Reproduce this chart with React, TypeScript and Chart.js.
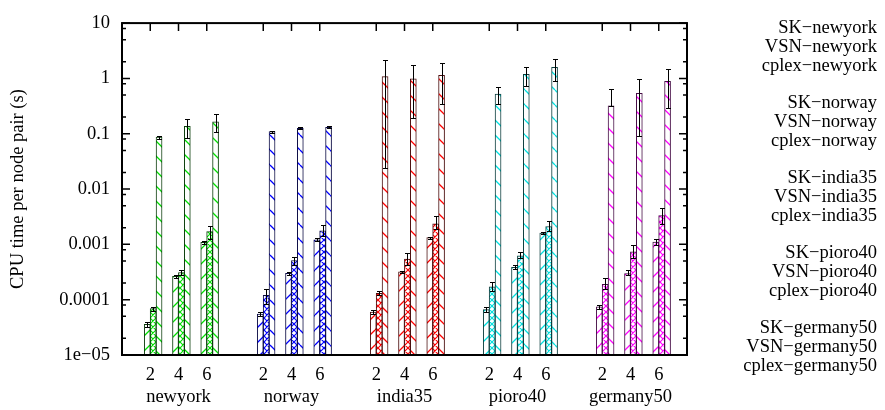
import React, { useEffect, useRef } from "react";
import { Chart, registerables } from "chart.js";

Chart.register(...registerables);

// ---------- data ----------
const networks = ["newyork", "norway", "india35", "pioro40", "germany50"];
const nodeCounts = ["2", "4", "6"];
const methods = ["SK", "VSN", "cplex"];

// values per network (rows) and node count (columns)
const skValues = [
  [3.6e-5, 2.65e-4, 1.09e-3],
  [5.5e-5, 3.0e-4, 1.21e-3],
  [6.0e-5, 3.2e-4, 1.32e-3],
  [6.6e-5, 3.85e-4, 1.6e-3],
  [7.4e-5, 2.95e-4, 1.1e-3],
];
const vsnValues = [
  [6.9e-5, 3.1e-4, 1.7e-3],
  [1.2e-4, 5.1e-4, 1.75e-3],
  [1.3e-4, 5.4e-4, 2.35e-3],
  [1.7e-4, 6.2e-4, 2.1e-3],
  [1.9e-4, 7.3e-4, 3.3e-3],
];
const cplexValues = [
  [0.087, 0.136, 0.164],
  [0.109, 0.125, 0.13],
  [1.08, 0.98, 1.14],
  [0.52, 1.19, 1.58],
  [0.32, 0.54, 0.89],
];

// error bar bounds
const skLow = [
  [3.2e-5, 2.5e-4, 1.03e-3],
  [5.1e-5, 2.85e-4, 1.15e-3],
  [5.6e-5, 3.05e-4, 1.27e-3],
  [6.1e-5, 3.6e-4, 1.53e-3],
  [6.8e-5, 2.75e-4, 9.9e-4],
];
const skHigh = [
  [3.9e-5, 2.8e-4, 1.16e-3],
  [5.95e-5, 3.15e-4, 1.28e-3],
  [6.5e-5, 3.35e-4, 1.38e-3],
  [7.3e-5, 4.15e-4, 1.67e-3],
  [8.0e-5, 3.37e-4, 1.26e-3],
];
const vsnLow = [
  [6.3e-5, 2.83e-4, 1.26e-3],
  [8.3e-5, 4.25e-4, 1.4e-3],
  [1.2e-4, 4.25e-4, 1.9e-3],
  [1.43e-4, 5.57e-4, 1.78e-3],
  [1.53e-4, 5.57e-4, 2.33e-3],
];
const vsnHigh = [
  [7.4e-5, 3.47e-4, 2.12e-3],
  [1.53e-4, 5.97e-4, 2.2e-3],
  [1.43e-4, 6.84e-4, 3.29e-3],
  [2.06e-4, 7.3e-4, 2.6e-3],
  [2.46e-4, 9.64e-4, 4.6e-3],
];
const cplexLow = [
  [0.081, 0.083, 0.106],
  [0.104, 0.12, 0.128],
  [0.0237, 0.196, 0.338],
  [0.338, 0.736, 0.914],
  [0.32, 0.0925, 0.296],
];
const cplexHigh = [
  [0.0925, 0.188, 0.225],
  [0.114, 0.132, 0.138],
  [2.13, 1.74, 1.91],
  [0.7, 1.62, 2.22],
  [0.643, 0.98, 1.46],
];

const yTickValues = [1e-5, 1e-4, 1e-3, 1e-2, 1e-1, 1, 10];
const yTickLabels = ["1e\u221205", "0.0001", "0.001", "0.01", "0.1", "1", "10"];

// ---------- styles ----------
const FONT = "'Liberation Serif', 'Times New Roman', serif";
const FONT_SIZE = 18.5;
const networkColors = ["#00e000", "#0000ff", "#ff0000", "#00e0e0", "#ff00ff"];
const networkEdges = ["#0b3d0b", "#0b0b44", "#4a0d0d", "#0b3d3d", "#440b44"];
const methodPatterns = ["up", "cross", "down"];
const methodOffsets = [-0.106, 0.103, 0.312];
const GROUP_STRIDE = 4;

function makePattern(kind: string, color: string) {
  const s = kind === "cross" ? 6 : 15;
  const c = document.createElement("canvas");
  c.width = s;
  c.height = s;
  const g = c.getContext("2d")!;
  g.fillStyle = "#ffffff";
  g.fillRect(0, 0, s, s);
  g.strokeStyle = color;
  g.lineWidth = kind === "cross" ? 1.2 : 1.3;
  g.beginPath();
  if (kind === "up" || kind === "cross") {
    for (const o of [-s, 0, s]) {
      g.moveTo(o, s);
      g.lineTo(o + s, 0);
    }
  }
  if (kind === "down" || kind === "cross") {
    for (const o of [-s, 0, s]) {
      g.moveTo(o, 0);
      g.lineTo(o + s, s);
    }
  }
  g.stroke();
  return g.createPattern(c, "repeat");
}

export default function App() {
  const ref = useRef<HTMLCanvasElement | null>(null);

  useEffect(() => {
    if (!ref.current) return;
    const methodValues = [skValues, vsnValues, cplexValues];
    const methodLow = [skLow, vsnLow, cplexLow];
    const methodHigh = [skHigh, vsnHigh, cplexHigh];

    const datasets: any[] = [];
    const lows: number[][] = [];
    const highs: number[][] = [];
    networks.forEach((net, g) => {
      methods.forEach((m, k) => {
        datasets.push({
          label: `${m}\u2212${net}`,
          data: nodeCounts.map((_, i) => ({
            x: g * GROUP_STRIDE + i + methodOffsets[k],
            y: methodValues[k][g][i],
          })),
          backgroundColor: makePattern(methodPatterns[k], networkColors[g]),
          borderColor: networkEdges[g],
          borderWidth: 1,
          borderSkipped: "bottom",
          barThickness: 6,
          grouped: false,
        });
        lows.push(methodLow[k][g]);
        highs.push(methodHigh[k][g]);
      });
    });

    const slots: number[] = [];
    const slotLabels: Record<number, string | string[]> = {};
    networks.forEach((net, g) => {
      nodeCounts.forEach((n, i) => {
        const s = g * GROUP_STRIDE + i;
        slots.push(s);
        slotLabels[s] = i === 1 ? [n, net] : n;
      });
    });

    const bottomTicks = {
      id: "bottomTicks",
      beforeDatasetsDraw(chart: any) {
        const { ctx, chartArea } = chart;
        const xs = chart.scales.x;
        ctx.save();
        ctx.strokeStyle = "#000";
        ctx.lineWidth = 1.5;
        ctx.beginPath();
        slots.forEach((s) => {
          const px = xs.getPixelForValue(s);
          ctx.moveTo(px, chartArea.bottom);
          ctx.lineTo(px, chartArea.bottom - 8);
        });
        ctx.stroke();
        ctx.restore();
      },
    };

    const errorBars = {
      id: "errorBars",
      afterDatasetsDraw(chart: any) {
        const { ctx } = chart;
        const ys = chart.scales.y;
        ctx.save();
        ctx.strokeStyle = "#000";
        ctx.lineWidth = 1;
        chart.data.datasets.forEach((_: any, di: number) => {
          const meta = chart.getDatasetMeta(di);
          meta.data.forEach((bar: any, i: number) => {
            const x = Math.round(bar.x) + 0.5;
            const yl = Math.round(ys.getPixelForValue(lows[di][i])) + 0.5;
            const yh = Math.round(ys.getPixelForValue(highs[di][i])) + 0.5;
            ctx.beginPath();
            ctx.moveTo(x, yl);
            ctx.lineTo(x, yh);
            ctx.moveTo(x - 2.5, yl);
            ctx.lineTo(x + 2.5, yl);
            ctx.moveTo(x - 2.5, yh);
            ctx.lineTo(x + 2.5, yh);
            ctx.stroke();
          });
        });
        ctx.restore();
      },
    };

    const frameAndLegend = {
      id: "frameAndLegend",
      afterDraw(chart: any) {
        const { ctx, chartArea } = chart;
        const { left, right, top, bottom } = chartArea;
        const xs = chart.scales.x;
        const ys = chart.scales.y;
        ctx.save();
        ctx.strokeStyle = "#000";
        ctx.lineWidth = 1.5;
        ctx.beginPath();
        yTickValues.forEach((v) => {
          const py = ys.getPixelForValue(v);
          ctx.moveTo(left, py);
          ctx.lineTo(left + 8, py);
          ctx.moveTo(right, py);
          ctx.lineTo(right - 8, py);
          [2, 5, 8].forEach((m) => {
            const mv = v * m;
            if (mv >= 10) return;
            const mp = ys.getPixelForValue(mv);
            ctx.moveTo(left, mp);
            ctx.lineTo(left + 4, mp);
            ctx.moveTo(right, mp);
            ctx.lineTo(right - 4, mp);
          });
        });
        slots.forEach((s) => {
          const px = xs.getPixelForValue(s);
          ctx.moveTo(px, top);
          ctx.lineTo(px, top + 8);
        });
        ctx.stroke();
        ctx.lineWidth = 2;
        ctx.strokeRect(left, top, right - left, bottom - top);

        // legend (text only; the key samples fall outside the picture)
        ctx.fillStyle = "#000";
        ctx.font = `${FONT_SIZE}px ${FONT}`;
        ctx.textAlign = "right";
        ctx.textBaseline = "alphabetic";
        chart.data.datasets.forEach((ds: any, di: number) => {
          const g = Math.floor(di / 3);
          const k = di % 3;
          const j = g * 4 + k;
          ctx.fillText(ds.label, 877, 33.3 + 18.75 * j);
        });
        ctx.restore();
      },
    };

    const chart = new Chart(ref.current, {
      type: "bar",
      data: { datasets },
      plugins: [bottomTicks, errorBars, frameAndLegend],
      options: {
        animation: false,
        responsive: false,
        maintainAspectRatio: false,
        devicePixelRatio: 1,
        layout: { padding: { left: 0, top: 17, right: 198, bottom: 0 } },
        plugins: {
          legend: { display: false },
          tooltip: { enabled: false },
        },
        scales: {
          x: {
            type: "linear",
            offset: false,
            min: -1,
            max: 19,
            grid: { display: false, drawTicks: false, offset: false },
            border: { display: false },
            afterBuildTicks: (scale: any) => {
              scale.ticks = slots.map((v) => ({ value: v }));
            },
            afterFit: (scale: any) => {
              scale.height = 55;
            },
            ticks: {
              autoSkip: false,
              maxRotation: 0,
              minRotation: 0,
              padding: 9,
              color: "#000",
              font: { family: FONT, size: FONT_SIZE },
              callback: (value: any) => slotLabels[Math.round(Number(value))] ?? "",
            },
          },
          y: {
            type: "logarithmic",
            min: 1e-5,
            max: 10,
            grid: { display: false, drawTicks: false },
            border: { display: false },
            afterBuildTicks: (scale: any) => {
              scale.ticks = yTickValues.map((v) => ({ value: v, major: true }));
            },
            afterFit: (scale: any) => {
              scale.width = 122;
            },
            ticks: {
              padding: 12,
              color: "#000",
              font: { family: FONT, size: FONT_SIZE },
              callback: (value: any) => {
                const idx = yTickValues.findIndex(
                  (t) => Math.abs(Math.log10(t) - Math.log10(Number(value))) < 1e-6
                );
                return idx >= 0 ? yTickLabels[idx] : "";
              },
            },
            title: {
              display: true,
              text: "CPU time per node pair (s)",
              color: "#000",
              font: { family: FONT, size: FONT_SIZE },
              padding: { top: 7, bottom: 0 },
            },
          },
        },
      } as any,
    });
    return () => chart.destroy();
  }, []);

  return (
    <div
      style={{
        position: "absolute",
        left: 0,
        top: 0,
        width: 885,
        height: 410,
        background: "#ffffff",
      }}
    >
      <canvas ref={ref} width={885} height={410} style={{ display: "block" }} />
    </div>
  );
}
